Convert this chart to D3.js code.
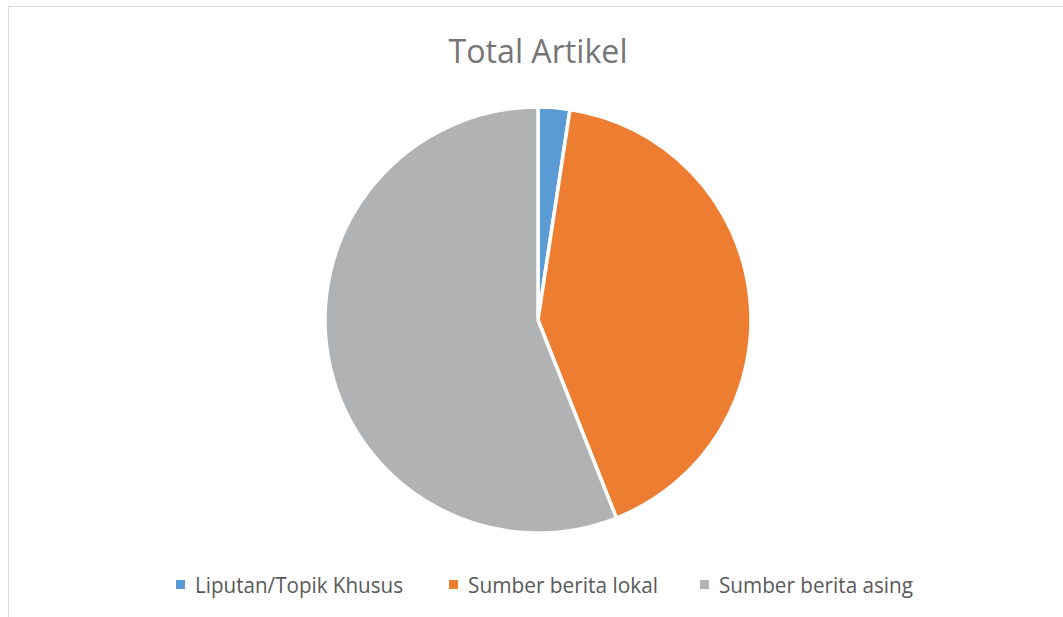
<!DOCTYPE html>
<html>
<head>
<meta charset="utf-8">
<script src="https://cdn.jsdelivr.net/npm/d3@7"></script>
<style>
  body { margin: 0; background: #fff; }
  svg { display: block; font-family: "Open Sans", "Noto Sans", sans-serif; }
</style>
</head>
<body>
<div id="chart"></div>
<script>
// data
var categories = ["Liputan/Topik Khusus", "Sumber berita lokal", "Sumber berita asing"];
var values = [12, 208, 280];
var colors = ["#5b9bd5", "#ed7d31", "#b1b2b4"];

var width = 1063, height = 617;
var cx = 538, cy = 320, radius = 213;

var svg = d3.select("#chart")
  .append("svg")
    .attr("width", width)
    .attr("height", height);

// chart area border
svg.append("rect")
  .attr("x", 8.5)
  .attr("y", 6.5)
  .attr("width", width)
  .attr("height", height)
  .attr("fill", "none")
  .attr("stroke", "#d9d9d9")
  .attr("stroke-width", 1);

// title
svg.append("text")
  .attr("x", 538)
  .attr("y", 63)
  .attr("text-anchor", "middle")
  .attr("fill", "#757575")
  .style("font-size", "32px")
  .attr("textLength", 179)
  .attr("lengthAdjust", "spacingAndGlyphs")
  .text("Total Artikel");

var pie = d3.pie().sort(null).value(function(d) { return d; });
var arc = d3.arc().innerRadius(0).outerRadius(radius);

var slices = pie(values);

svg.append("g")
  .attr("transform", "translate(" + cx + "," + cy + ")")
  .selectAll("path")
  .data(slices)
  .enter()
  .append("path")
    .attr("d", arc)
    .attr("fill", function(d, i) { return colors[i]; })
    .attr("stroke", "#fff")
    .attr("stroke-width", 3.5)
    .attr("stroke-linejoin", "round");

// legend
var legendX = [176, 449, 700];
var legendW = [208, 190, 194];
var legend = svg.append("g")
  .selectAll("g")
  .data(categories)
  .enter()
  .append("g")
    .attr("transform", function(d, i) { return "translate(" + legendX[i] + ",585)"; });

legend.append("rect")
  .attr("x", 0)
  .attr("y", -5)
  .attr("width", 9)
  .attr("height", 9)
  .attr("fill", function(d, i) { return colors[i]; });

legend.append("text")
  .attr("x", 19)
  .attr("y", 8)
  .attr("fill", "#595959")
  .style("font-size", "21px")
  .attr("textLength", function(d, i) { return legendW[i]; })
  .attr("lengthAdjust", "spacingAndGlyphs")
  .text(function(d) { return d; });
</script>
</body>
</html>
